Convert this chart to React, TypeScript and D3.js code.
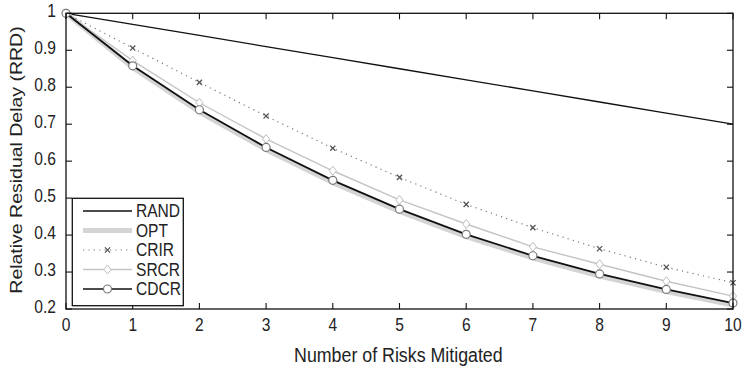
import React from "react";
import * as d3 from "d3";

const xValues = [0, 1, 2, 3, 4, 5, 6, 7, 8, 9, 10];
const randValues = [1, 0.97, 0.94, 0.91, 0.88, 0.85, 0.82, 0.79, 0.76, 0.73, 0.70];
const optValues = [1, 0.853, 0.733, 0.631, 0.542, 0.464, 0.396, 0.338, 0.289, 0.247, 0.211];
const crirValues = [1, 0.906, 0.813, 0.722, 0.635, 0.556, 0.483, 0.420, 0.363, 0.313, 0.271];
const srcrValues = [1, 0.872, 0.758, 0.660, 0.574, 0.495, 0.430, 0.368, 0.321, 0.275, 0.235];
const cdcrValues = [1, 0.858, 0.739, 0.637, 0.548, 0.470, 0.402, 0.344, 0.295, 0.253, 0.216];
const xTicks = [0, 1, 2, 3, 4, 5, 6, 7, 8, 9, 10];
const yTicks = [0.2, 0.3, 0.4, 0.5, 0.6, 0.7, 0.8, 0.9, 1];
const legendLabels = ["RAND", "OPT", "CRIR", "SRCR", "CDCR"];

const W = 743;
const H = 368;
const left = 66;
const right = 733;
const top = 13.3;
const bottom = 309;
const SX = 0.89;
const FONT = "'Liberation Sans', Arial, sans-serif";

function Txt({ x, y, size, anchor, children, rotate }: any) {
  const tr = rotate
    ? `translate(${x},${y}) scale(${SX},1) rotate(-90)`
    : `translate(${x},${y}) scale(${SX},1)`;
  return (
    <text transform={tr} fontSize={size} textAnchor={anchor} fontFamily={FONT} fill="#222">
      {children}
    </text>
  );
}

function Diamond({ cx, cy }: any) {
  const s = 4.5;
  return (
    <path
      d={`M${cx},${cy - s}L${cx + s * 0.8},${cy}L${cx},${cy + s}L${cx - s * 0.8},${cy}Z`}
      fill="#fff"
      stroke="#bdbdbd"
      strokeWidth={1}
    />
  );
}

function Cross({ cx, cy }: any) {
  const s = 2.6;
  return (
    <path
      d={`M${cx - s},${cy - s}L${cx + s},${cy + s}M${cx - s},${cy + s}L${cx + s},${cy - s}`}
      stroke="#555"
      strokeWidth={1.3}
    />
  );
}

function Circle({ cx, cy }: any) {
  return <circle cx={cx} cy={cy} r={4} fill="#fff" stroke="#7a7a7a" strokeWidth={1.2} />;
}

export default function App() {
  const x = d3.scaleLinear().domain([0, 10]).range([left, right]);
  const y = d3.scaleLinear().domain([0.2, 1]).range([bottom, top]);
  const line = d3
    .line<number>()
    .x((_, i) => x(xValues[i]))
    .y((d) => y(d));

  const legX0 = 72.3;
  const legY0 = 198.3;
  const legW = 111;
  const legH = 107.4;
  const rowY = (i: number) => 211 + i * 19.5;
  const sampleX1 = 83;
  const sampleX2 = 132;
  const sampleMid = (sampleX1 + sampleX2) / 2;

  return (
    <svg width={W} height={H} style={{ position: "absolute", left: 0, top: 0, background: "#fff" }}>
      <rect x={0} y={0} width={W} height={H} fill="#fff" />
      {/* series */}
      <path d={line(randValues) || ""} fill="none" stroke="#111" strokeWidth={1.3} />
      <path d={line(optValues) || ""} fill="none" stroke="#d4d4d4" strokeWidth={5} strokeLinejoin="round" />
      <path d={line(crirValues) || ""} fill="none" stroke="#777" strokeWidth={1.2} strokeDasharray="1.2,4.2" />
      <path d={line(srcrValues) || ""} fill="none" stroke="#c4c4c4" strokeWidth={1.4} />
      <path d={line(cdcrValues) || ""} fill="none" stroke="#111" strokeWidth={1.8} />
      {crirValues.map((v, i) => (
        <Cross key={"c" + i} cx={x(xValues[i])} cy={y(v)} />
      ))}
      {srcrValues.map((v, i) => (
        <Diamond key={"d" + i} cx={x(xValues[i])} cy={y(v)} />
      ))}
      {cdcrValues.map((v, i) => (
        <Circle key={"o" + i} cx={x(xValues[i])} cy={y(v)} />
      ))}

      {/* axes box */}
      <rect x={left} y={top} width={right - left} height={bottom - top} fill="none" stroke="#111" strokeWidth={1.3} />
      {xTicks.map((t) => (
        <g key={"xt" + t}>
          <line x1={x(t)} x2={x(t)} y1={bottom} y2={bottom - 6} stroke="#111" strokeWidth={1.1} />
          <line x1={x(t)} x2={x(t)} y1={top} y2={top + 6} stroke="#111" strokeWidth={1.1} />
          <Txt x={x(t)} y={bottom + 22} size={17.5} anchor="middle">
            {String(t)}
          </Txt>
        </g>
      ))}
      {yTicks.map((t) => (
        <g key={"yt" + t}>
          <line x1={left} x2={left + 6} y1={y(t)} y2={y(t)} stroke="#111" strokeWidth={1.1} />
          <line x1={right} x2={right - 6} y1={y(t)} y2={y(t)} stroke="#111" strokeWidth={1.1} />
          <Txt x={left - 10} y={y(t) + 4} size={17.5} anchor="end">
            {d3.format("")(+t.toFixed(1))}
          </Txt>
        </g>
      ))}

      {/* titles */}
      <Txt x={(292.7 + 504) / 2} y={361.5} size={20} anchor="middle">
        Number of Risks Mitigated
      </Txt>
      <Txt x={22} y={160} size={19.5} anchor="middle" rotate>
        Relative Residual Delay (RRD)
      </Txt>

      {/* legend */}
      <rect x={legX0} y={legY0} width={legW} height={legH} fill="#fff" stroke="#111" strokeWidth={1.3} />
      {legendLabels.map((lab, i) => {
        const ly = rowY(i);
        let sample: any = null;
        if (lab === "RAND")
          sample = <line x1={sampleX1} x2={sampleX2} y1={ly} y2={ly} stroke="#111" strokeWidth={1.3} />;
        if (lab === "OPT")
          sample = <line x1={sampleX1} x2={sampleX2} y1={ly} y2={ly} stroke="#d4d4d4" strokeWidth={5} />;
        if (lab === "CRIR")
          sample = (
            <g>
              <line x1={sampleX1} x2={sampleX2} y1={ly} y2={ly} stroke="#777" strokeWidth={1.2} strokeDasharray="1.2,4.2" />
              <Cross cx={sampleMid} cy={ly} />
            </g>
          );
        if (lab === "SRCR")
          sample = (
            <g>
              <line x1={sampleX1} x2={sampleX2} y1={ly} y2={ly} stroke="#c4c4c4" strokeWidth={1.4} />
              <Diamond cx={sampleMid} cy={ly} />
            </g>
          );
        if (lab === "CDCR")
          sample = (
            <g>
              <line x1={sampleX1} x2={sampleX2} y1={ly} y2={ly} stroke="#111" strokeWidth={1.5} />
              <Circle cx={sampleMid} cy={ly} />
            </g>
          );
        return (
          <g key={lab}>
            {sample}
            <Txt x={136} y={ly + 6} size={17.5} anchor="start">
              {lab}
            </Txt>
          </g>
        );
      })}
    </svg>
  );
}
